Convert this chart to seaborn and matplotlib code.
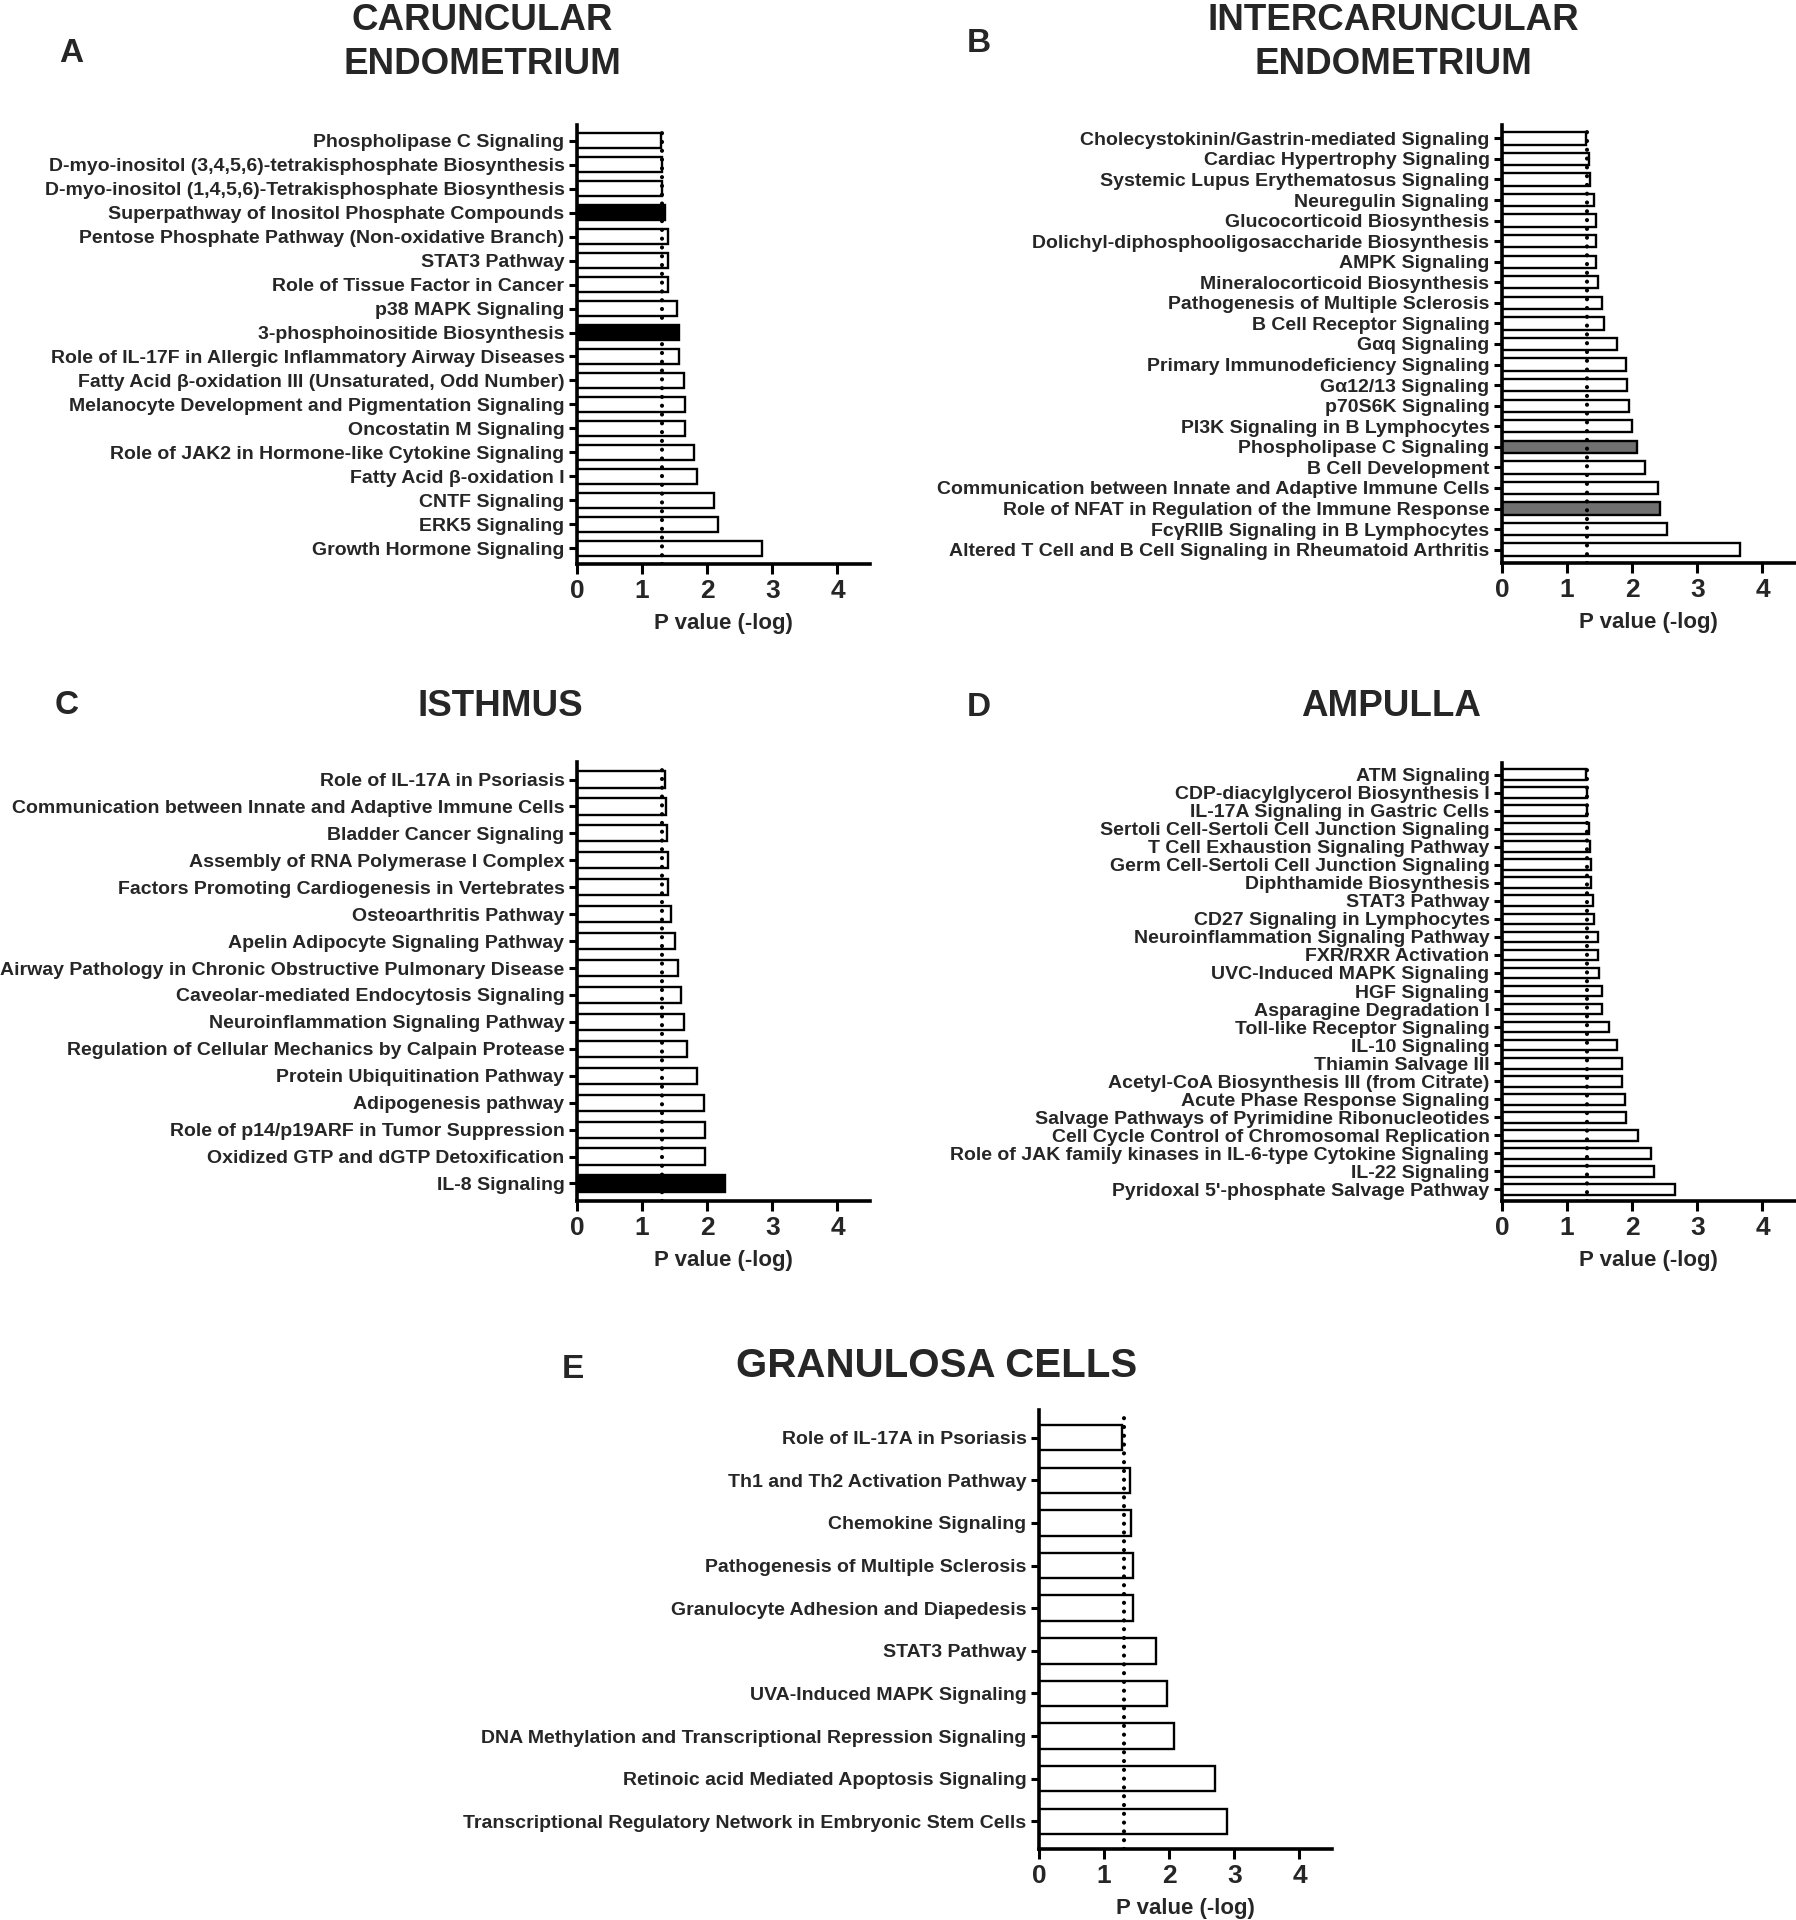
import matplotlib
matplotlib.use("Agg")
import matplotlib.pyplot as plt
import seaborn as sns
import pandas as pd

sns.set_theme(style="white")
plt.rcParams['font.family'] = ['Liberation Sans', 'DejaVu Sans']
plt.rcParams['font.weight'] = 'bold'

THRESHOLD = 1.3

# ---------------- data ----------------
A_pathways = [
    "Phospholipase C Signaling",
    "D-myo-inositol (3,4,5,6)-tetrakisphosphate Biosynthesis",
    "D-myo-inositol (1,4,5,6)-Tetrakisphosphate Biosynthesis",
    "Superpathway of Inositol Phosphate Compounds",
    "Pentose Phosphate Pathway (Non-oxidative Branch)",
    "STAT3 Pathway",
    "Role of Tissue Factor in Cancer",
    "p38 MAPK Signaling",
    "3-phosphoinositide Biosynthesis",
    "Role of IL-17F in Allergic Inflammatory Airway Diseases",
    "Fatty Acid β-oxidation III (Unsaturated, Odd Number)",
    "Melanocyte Development and Pigmentation Signaling",
    "Oncostatin M Signaling",
    "Role of JAK2 in Hormone-like Cytokine Signaling",
    "Fatty Acid β-oxidation I",
    "CNTF Signaling",
    "ERK5 Signaling",
    "Growth Hormone Signaling",
]
A_values = [1.29, 1.30, 1.30, 1.35, 1.40, 1.40, 1.40, 1.53, 1.56, 1.57,
            1.64, 1.66, 1.66, 1.79, 1.84, 2.10, 2.16, 2.84]
A_dark = ["Superpathway of Inositol Phosphate Compounds",
          "3-phosphoinositide Biosynthesis"]

B_pathways = [
    "Cholecystokinin/Gastrin-mediated Signaling",
    "Cardiac Hypertrophy Signaling",
    "Systemic Lupus Erythematosus Signaling",
    "Neuregulin Signaling",
    "Glucocorticoid Biosynthesis",
    "Dolichyl-diphosphooligosaccharide Biosynthesis",
    "AMPK Signaling",
    "Mineralocorticoid Biosynthesis",
    "Pathogenesis of Multiple Sclerosis",
    "B Cell Receptor Signaling",
    "Gαq Signaling",
    "Primary Immunodeficiency Signaling",
    "Gα12/13 Signaling",
    "p70S6K Signaling",
    "PI3K Signaling in B Lymphocytes",
    "Phospholipase C Signaling",
    "B Cell Development",
    "Communication between Innate and Adaptive Immune Cells",
    "Role of NFAT in Regulation of the Immune Response",
    "FcγRIIB Signaling in B Lymphocytes",
    "Altered T Cell and B Cell Signaling in Rheumatoid Arthritis",
]
B_values = [1.29, 1.33, 1.35, 1.42, 1.44, 1.44, 1.45, 1.47, 1.53, 1.57, 1.77,
            1.91, 1.92, 1.95, 1.99, 2.07, 2.19, 2.39, 2.42, 2.53, 3.65]
B_gray = ["Phospholipase C Signaling",
          "Role of NFAT in Regulation of the Immune Response"]

C_pathways = [
    "Role of IL-17A in Psoriasis",
    "Communication between Innate and Adaptive Immune Cells",
    "Bladder Cancer Signaling",
    "Assembly of RNA Polymerase I Complex",
    "Factors Promoting Cardiogenesis in Vertebrates",
    "Osteoarthritis Pathway",
    "Apelin Adipocyte Signaling Pathway",
    "Airway Pathology in Chronic Obstructive Pulmonary Disease",
    "Caveolar-mediated Endocytosis Signaling",
    "Neuroinflammation Signaling Pathway",
    "Regulation of Cellular Mechanics by Calpain Protease",
    "Protein Ubiquitination Pathway",
    "Adipogenesis pathway",
    "Role of p14/p19ARF in Tumor Suppression",
    "Oxidized GTP and dGTP Detoxification",
    "IL-8 Signaling",
]
C_values = [1.35, 1.36, 1.38, 1.39, 1.40, 1.44, 1.51, 1.55, 1.59, 1.64,
            1.69, 1.85, 1.95, 1.97, 1.97, 2.28]
C_dark = ["IL-8 Signaling"]

D_pathways = [
    "ATM Signaling",
    "CDP-diacylglycerol Biosynthesis I",
    "IL-17A Signaling in Gastric Cells",
    "Sertoli Cell-Sertoli Cell Junction Signaling",
    "T Cell Exhaustion Signaling Pathway",
    "Germ Cell-Sertoli Cell Junction Signaling",
    "Diphthamide Biosynthesis",
    "STAT3 Pathway",
    "CD27 Signaling in Lymphocytes",
    "Neuroinflammation Signaling Pathway",
    "FXR/RXR Activation",
    "UVC-Induced MAPK Signaling",
    "HGF Signaling",
    "Asparagine Degradation I",
    "Toll-like Receptor Signaling",
    "IL-10 Signaling",
    "Thiamin Salvage III",
    "Acetyl-CoA Biosynthesis III (from Citrate)",
    "Acute Phase Response Signaling",
    "Salvage Pathways of Pyrimidine Ribonucleotides",
    "Cell Cycle Control of Chromosomal Replication",
    "Role of JAK family kinases in IL-6-type Cytokine Signaling",
    "IL-22 Signaling",
    "Pyridoxal 5'-phosphate Salvage Pathway",
]
D_values = [1.29, 1.30, 1.30, 1.34, 1.35, 1.37, 1.37, 1.39, 1.41, 1.47, 1.47, 1.49,
            1.54, 1.54, 1.65, 1.77, 1.84, 1.84, 1.89, 1.91, 2.09, 2.29, 2.34, 2.65]

E_pathways = [
    "Role of IL-17A in Psoriasis",
    "Th1 and Th2 Activation Pathway",
    "Chemokine Signaling",
    "Pathogenesis of Multiple Sclerosis",
    "Granulocyte Adhesion and Diapedesis",
    "STAT3 Pathway",
    "UVA-Induced MAPK Signaling",
    "DNA Methylation and Transcriptional Repression Signaling",
    "Retinoic acid Mediated Apoptosis Signaling",
    "Transcriptional Regulatory Network in Embryonic Stem Cells",
]
E_values = [1.27, 1.40, 1.41, 1.44, 1.44, 1.79, 1.97, 2.08, 2.71, 2.88]

x_ticks = [0, 1, 2, 3, 4]
x_label = "P value (-log)"

# ---------------- figure ----------------
W, H = 1796, 1920
fig = plt.figure(figsize=(W / 100, H / 100), dpi=100)


def make_axes(left, top, right, bottom):
    return fig.add_axes([left / W, 1 - bottom / H, (right - left) / W, (bottom - top) / H])


def panel(ax, names, values, dark=(), gray=(), label_size=14):
    df = pd.DataFrame({"pathway": names, "value": values})
    pal = {}
    for n in names:
        if n in dark:
            pal[n] = "black"
        elif n in gray:
            pal[n] = "#707070"
        else:
            pal[n] = "white"
    sns.barplot(data=df, x="value", y="pathway", hue="pathway", order=names,
                palette=pal, saturation=1, edgecolor="black", linewidth=1.7,
                width=0.6, errorbar=None, legend=False, ax=ax)
    n = len(names)
    ax.set_ylim(n - 1 + 0.65, -0.65)
    ax.set_xlim(0, 4.5)
    ax.axvline(THRESHOLD, color="black", linestyle=(0, (0.01, 2.1)),
               linewidth=3.0, dash_capstyle="round", zorder=5)
    ax.set_xticks(x_ticks)
    ax.set_xticklabels([str(t) for t in x_ticks], fontsize=19, fontweight="bold")
    ax.set_xlabel(x_label, fontsize=16, fontweight="bold", labelpad=7)
    ax.set_ylabel("")
    for lab in ax.get_yticklabels():
        lab.set_fontsize(label_size)
        lab.set_fontweight("bold")
    ax.tick_params(axis="y", length=6, width=2.2, pad=3, color="black", left=True)
    ax.tick_params(axis="x", length=7, width=2.2, pad=4, color="black", bottom=True)
    for s in ["top", "right"]:
        ax.spines[s].set_visible(False)
    for s in ["left", "bottom"]:
        ax.spines[s].set_linewidth(2.6)
        ax.spines[s].set_color("black")
    ax.set_facecolor("white")


axA = make_axes(577, 125, 870, 564)
panel(axA, A_pathways, A_values, dark=A_dark)
axB = make_axes(1502, 125, 1795, 563)
panel(axB, B_pathways, B_values, gray=B_gray)
axC = make_axes(577, 762, 870, 1201)
panel(axC, C_pathways, C_values, dark=C_dark)
axD = make_axes(1502, 763, 1795, 1201)
panel(axD, D_pathways, D_values)
axE = make_axes(1039, 1410, 1332, 1849)
panel(axE, E_pathways, E_values)


# titles
def ftext(x, y, s, size, **kw):
    fig.text(x / W, 1 - y / H, s, fontsize=size, fontweight="bold",
             ha="center", va="center", **kw)


ftext(482, 42.5, "CARUNCULAR\nENDOMETRIUM", 26.5, linespacing=1.31)
ftext(1393, 42.5, "INTERCARUNCULAR\nENDOMETRIUM", 26.5, linespacing=1.31)
ftext(500, 707, "ISTHMUS", 26.5)
ftext(1391, 707, "AMPULLA", 26.5)
ftext(937, 1366, "GRANULOSA CELLS", 29)

ftext(71, 53, "A", 24)
ftext(979, 43, "B", 24)
ftext(67, 706, "C", 24)
ftext(979, 708, "D", 24)
ftext(573, 1369, "E", 24)

fig.savefig("out.png", dpi=100, facecolor="white")
